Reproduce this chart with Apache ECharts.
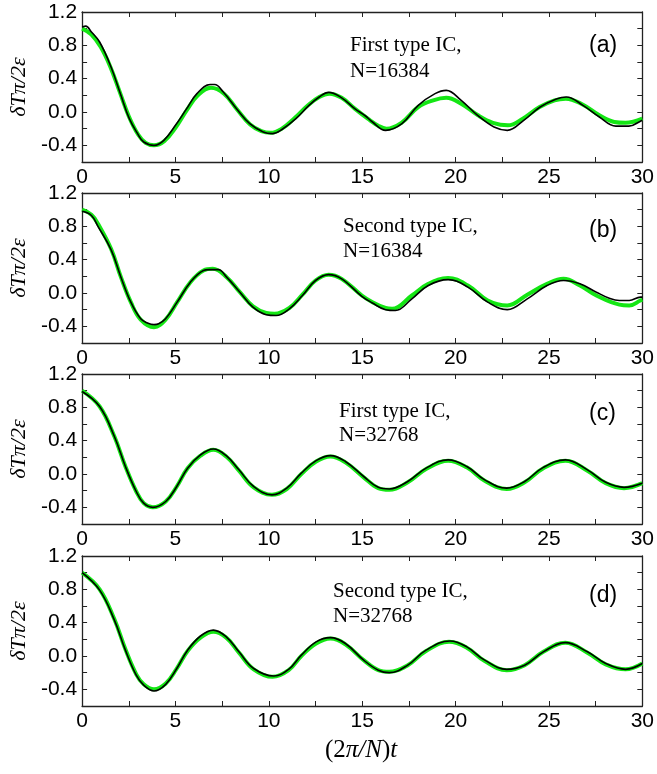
<!DOCTYPE html>
<html>
<head>
<meta charset="utf-8">
<script src="https://cdn.jsdelivr.net/npm/echarts@6/dist/echarts.min.js"></script>
<style>
html, body { margin: 0; padding: 0; background: #fff; }
#container { width: 657px; height: 774px; }
</style>
</head>
<body>
<div id="container"></div>
<script>
var dom = document.getElementById('container');
var myChart = echarts.init(dom, null, { renderer: 'canvas' });

// panel texts
var panelTags = ['(a)', '(b)', '(c)', '(d)'];
var panelLine1 = ['First type IC,', 'Second type IC,', 'First type IC,', 'Second type IC,'];
var panelLine2 = ['N=16384', 'N=16384', 'N=32768', 'N=32768'];

// green (theory) curves, [t, value]
var greenA = [[0,1.0],[0.5,0.93],[1,0.78],[1.5,0.55],[2,0.25],[2.5,-0.05],[3,-0.27],[3.4,-0.37],[3.85,-0.40],[4.4,-0.35],[5,-0.19],[5.6,0.02],[6.2,0.2],[6.9,0.29],[7.6,0.22],[8.3,0.03],[9,-0.15],[9.6,-0.23],[10.1,-0.25],[10.7,-0.2],[11.4,-0.07],[12.1,0.08],[12.7,0.18],[13.25,0.22],[13.9,0.17],[14.6,0.04],[15.3,-0.08],[15.9,-0.17],[16.3,-0.2],[17.1,-0.13],[18.0,0.06],[18.8,0.14],[19.5,0.17],[20.3,0.1],[21.2,-0.04],[22.0,-0.13],[22.8,-0.16],[23.6,-0.08],[24.5,0.06],[25.3,0.14],[25.9,0.16],[26.8,0.09],[27.7,-0.04],[28.5,-0.12],[29.1,-0.13],[30,-0.08]];
var greenB = [[0,1.0],[0.5,0.94],[0.85,0.83],[1.55,0.53],[2.08,0.19],[2.61,-0.11],[3.14,-0.32],[3.85,-0.41],[4.47,-0.32],[5.09,-0.11],[5.8,0.13],[6.5,0.27],[7.0,0.29],[7.74,0.19],[8.45,0.01],[9.15,-0.16],[9.86,-0.24],[10.3,-0.25],[11.1,-0.18],[11.8,-0.02],[12.5,0.15],[13.2,0.22],[13.9,0.17],[14.98,-0.03],[15.55,-0.11],[16.25,-0.18],[16.6,-0.19],[17.66,-0.03],[18.54,0.11],[19.6,0.18],[20.66,0.09],[21.72,-0.09],[22.77,-0.15],[23.84,-0.02],[24.9,0.11],[25.78,0.17],[26.66,0.09],[27.54,-0.03],[28.77,-0.14],[29.3,-0.15],[29.9,-0.09],[30,-0.08]];
var greenC = [[0,1.0],[0.94,0.81],[1.73,0.45],[2.32,0.09],[2.9,-0.21],[3.3,-0.35],[3.79,-0.40],[4.48,-0.33],[5.07,-0.15],[5.65,0.07],[6.34,0.22],[7.03,0.29],[7.72,0.21],[8.4,0.04],[9.19,-0.16],[10.17,-0.25],[10.96,-0.18],[11.74,0.0],[12.53,0.15],[13.3,0.21],[14.1,0.14],[15.08,-0.04],[15.86,-0.17],[16.45,-0.19],[17.44,-0.1],[18.42,0.06],[19.6,0.16],[20.6,0.08],[21.56,-0.08],[22.74,-0.18],[23.7,-0.1],[24.7,0.07],[25.88,0.16],[27.06,0.04],[28.04,-0.11],[29.02,-0.17],[30,-0.11]];
var greenD = [[0,1.0],[0.94,0.8],[1.73,0.44],[2.32,0.08],[2.9,-0.22],[3.3,-0.34],[3.85,-0.40],[4.48,-0.33],[5.07,-0.15],[5.65,0.06],[6.34,0.22],[7.03,0.29],[7.72,0.22],[8.4,0.04],[9.19,-0.16],[10.2,-0.25],[11.06,-0.17],[11.74,0.0],[12.53,0.15],[13.3,0.21],[14.1,0.14],[15.08,-0.05],[15.86,-0.17],[16.45,-0.19],[17.44,-0.11],[18.42,0.06],[19.65,0.17],[20.6,0.1],[21.56,-0.06],[22.74,-0.17],[23.7,-0.11],[24.7,0.05],[25.88,0.16],[27.06,0.04],[28.04,-0.1],[29.1,-0.16],[30,-0.09]];

// black (simulation) curves
var blackA = [[0,1.02],[0.2,1.03],[0.5,0.96],[0.94,0.84],[1.55,0.54],[2.08,0.2],[2.53,-0.08],[2.97,-0.26],[3.3,-0.36],[3.85,-0.40],[4.38,-0.34],[5,-0.16],[5.6,0.04],[6.15,0.22],[6.86,0.33],[7.1,0.33],[7.56,0.24],[8.27,0.04],[8.98,-0.14],[9.7,-0.24],[10.2,-0.26],[10.7,-0.21],[11.45,-0.08],[12.15,0.08],[12.7,0.18],[13.2,0.236],[13.9,0.17],[14.6,0.04],[15.16,-0.045],[15.55,-0.12],[16.25,-0.22],[17.13,-0.14],[18.0,0.08],[18.9,0.22],[19.5,0.26],[20.3,0.14],[21.18,-0.04],[22.06,-0.18],[22.77,-0.22],[23.65,-0.1],[24.53,0.06],[25.4,0.156],[25.93,0.18],[26.82,0.08],[27.7,-0.06],[28.58,-0.17],[29.28,-0.17],[29.9,-0.11],[30,-0.1]];
var blackB = [[0,0.98],[0.5,0.93],[0.85,0.8],[1.55,0.52],[2.08,0.19],[2.61,-0.11],[3.14,-0.31],[3.5,-0.36],[3.85,-0.38],[4.1,-0.37],[4.47,-0.31],[5.09,-0.11],[5.8,0.13],[6.5,0.27],[6.8,0.28],[7.3,0.28],[7.74,0.19],[8.45,0.01],[9.15,-0.17],[9.86,-0.26],[10.39,-0.27],[11.1,-0.19],[11.8,-0.03],[12.5,0.15],[13.2,0.22],[13.9,0.17],[14.98,-0.04],[15.55,-0.12],[16.25,-0.2],[16.78,-0.21],[17.66,-0.07],[18.54,0.09],[19.6,0.16],[20.66,0.07],[21.72,-0.11],[22.77,-0.2],[23.84,-0.07],[24.9,0.09],[25.78,0.15],[26.66,0.11],[27.54,0.01],[28.2,-0.06],[28.77,-0.09],[29.3,-0.09],[29.9,-0.05],[30,-0.05]];
var blackC = [[0,0.99],[0.94,0.81],[1.73,0.45],[2.32,0.09],[2.9,-0.21],[3.3,-0.35],[3.79,-0.40],[4.48,-0.33],[5.07,-0.15],[5.65,0.07],[6.34,0.23],[7.03,0.30],[7.72,0.22],[8.4,0.05],[9.19,-0.15],[10.17,-0.25],[10.96,-0.17],[11.74,0.01],[12.53,0.16],[13.3,0.22],[14.1,0.15],[15.08,-0.03],[15.86,-0.16],[16.45,-0.18],[17.44,-0.09],[18.42,0.07],[19.6,0.17],[20.6,0.09],[21.56,-0.07],[22.74,-0.17],[23.7,-0.09],[24.7,0.08],[25.88,0.17],[27.06,0.05],[28.04,-0.10],[29.02,-0.16],[30,-0.11]];
var blackD = [[0,1.0],[0.94,0.79],[1.73,0.43],[2.32,0.07],[2.9,-0.23],[3.3,-0.35],[3.85,-0.42],[4.48,-0.34],[5.07,-0.15],[5.65,0.07],[6.34,0.24],[7.03,0.31],[7.72,0.23],[8.4,0.05],[9.19,-0.15],[10.27,-0.24],[11.06,-0.16],[11.74,0.01],[12.53,0.17],[13.3,0.22],[14.1,0.15],[15.08,-0.05],[15.86,-0.17],[16.45,-0.20],[17.44,-0.11],[18.42,0.07],[19.7,0.18],[20.6,0.11],[21.56,-0.05],[22.74,-0.16],[23.7,-0.11],[24.7,0.05],[25.88,0.16],[27.06,0.05],[28.04,-0.09],[29.1,-0.16],[30,-0.09]];

var greens = [greenA, greenB, greenC, greenD];
var blacks = [blackA, blackB, blackC, blackD];

// layout of the four panels
var gridTops = [12, 193, 374, 556];
var gridH = 150;
var gridLeft = 79, gridRight = 10;
var textX = [350, 343, 339, 333];
var textDy = [[34, 60], [34, 59], [38, 62], [36, 61]];
var tagDy = [35, 39, 41, 41];

var sansFont = "'Liberation Sans', Arial, sans-serif";
var serifFont = "'Liberation Serif', 'Times New Roman', serif";
var axisColor = '#222';

var grids = [], xAxes = [], yAxes = [], series = [], graphics = [];

function xLabel(v) {
    return (Math.round(v * 2) % 10 === 0) ? String(Math.round(v)) : '';
}
function yLabel(v) {
    var k = Math.round(v * 10);
    if (((k % 4) + 4) % 4 !== 0) return '';
    return (k / 10).toFixed(1);
}

for (var i = 0; i < 4; i++) {
    grids.push({ left: gridLeft, right: gridRight, top: gridTops[i], height: gridH });

    var common = {
        type: 'value', gridIndex: i,
        axisLine: { show: true, onZero: false, lineStyle: { color: axisColor, width: 1.3 } },
        axisTick: { show: true, inside: true, length: 5, lineStyle: { color: axisColor, width: 1 } },
        splitLine: { show: false }
    };
    xAxes.push(Object.assign({}, common, {
        position: 'bottom', min: 0, max: 30, interval: 2.5,
        axisLabel: { show: true, formatter: xLabel, color: '#000', fontFamily: sansFont, fontSize: 21, margin: 5, showMinLabel: true, showMaxLabel: true }
    }));
    xAxes.push(Object.assign({}, common, {
        position: 'top', min: 0, max: 30, interval: 2.5, axisLabel: { show: false }
    }));
    yAxes.push(Object.assign({}, common, {
        position: 'left', min: -0.6, max: 1.2, interval: 0.2,
        axisLabel: { show: true, formatter: yLabel, color: '#000', fontFamily: sansFont, fontSize: 21, margin: 5 },
        name: 'δTπ/2ε', nameLocation: 'middle', nameGap: 48, nameRotate: 90,
        nameTextStyle: { fontFamily: serifFont, fontStyle: 'italic', fontSize: 22, color: '#000' }
    }));
    yAxes.push(Object.assign({}, common, {
        position: 'right', min: -0.6, max: 1.2, interval: 0.2, axisLabel: { show: false }
    }));

    series.push({
        type: 'line', xAxisIndex: 2 * i, yAxisIndex: 2 * i, data: greens[i],
        showSymbol: false, smooth: 0.4, z: 2,
        lineStyle: { color: '#14e614', width: 4 }
    });
    series.push({
        type: 'line', xAxisIndex: 2 * i, yAxisIndex: 2 * i, data: blacks[i],
        showSymbol: false, smooth: 0.4, z: 3,
        lineStyle: { color: '#000', width: 1.6 }
    });

    graphics.push({
        type: 'text', left: textX[i], top: gridTops[i] + textDy[i][0] - 11,
        style: { text: panelLine1[i], font: '21px ' + serifFont, fill: '#000' }
    });
    graphics.push({
        type: 'text', left: textX[i], top: gridTops[i] + textDy[i][1] - 11,
        style: { text: panelLine2[i], font: '21px ' + serifFont, fill: '#000' }
    });
    graphics.push({
        type: 'text', left: 589, top: gridTops[i] + tagDy[i] - 13,
        style: { text: panelTags[i], font: '23px ' + sansFont, fill: '#000' }
    });
}

// x axis title, centred under the plot area
graphics.push({
    type: 'text', left: 325, top: 738,
    style: {
        text: '{n|(2}{i|π/N}{n|)}{i|t}',
        rich: {
            n: { fontFamily: serifFont, fontSize: 25, fill: '#000' },
            i: { fontFamily: serifFont, fontStyle: 'italic', fontSize: 25, fill: '#000' }
        }
    }
});

var option = {
    backgroundColor: '#fff',
    animation: false,
    grid: grids,
    xAxis: xAxes,
    yAxis: yAxes,
    series: series,
    graphic: graphics
};

myChart.setOption(option);
</script>
</body>
</html>
